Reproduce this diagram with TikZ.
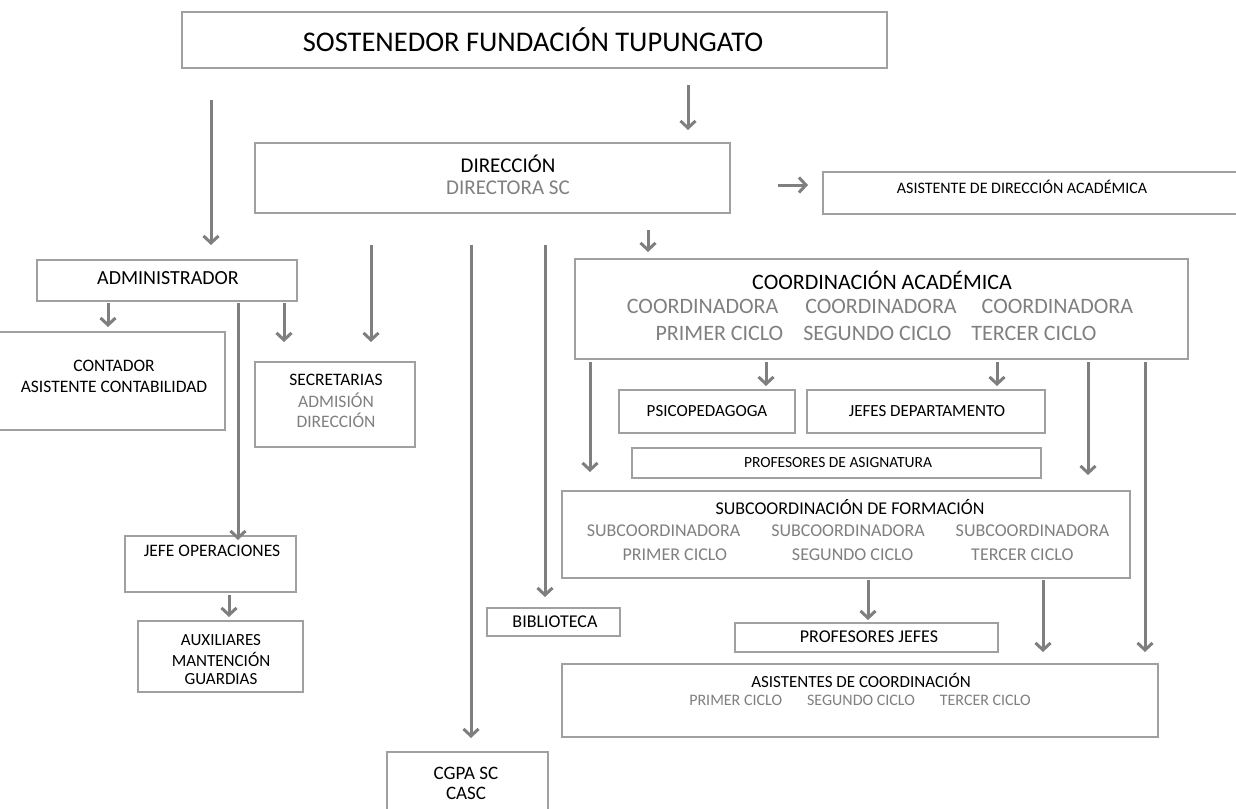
\documentclass[tikz,border=0pt]{standalone}
\usepackage{fontspec}
\setmainfont{Carlito}
\usetikzlibrary{arrows.meta}
\definecolor{boxline}{HTML}{A0A0A0}
\definecolor{arrowgray}{HTML}{7F7F7F}
\definecolor{subgray}{HTML}{808080}
\tikzset{
  box/.style={draw=boxline,line width=1.2pt,fill=white,inner sep=0pt,outer sep=0pt},
  arr/.style={draw=arrowgray,line width=3pt,-{Straight Barb[length=7pt,width=15pt]}},
  lbl/.style={inner sep=0pt,align=center,text=black},
  sub/.style={inner sep=0pt,align=center,text=subgray},
}
\newcommand\mkbox[5]{\node[box,minimum width={(#4-#2)*1pt},minimum height={(#5-#3)*1pt}] (#1) at ({(#2+#4)/2},{(#3+#5)/2}) {};}
\newcommand\fs[1]{\fontsize{#1}{#1}\selectfont}
\begin{document}
\begin{tikzpicture}[x=1pt,y=-1pt]
\useasboundingbox (0,0) rectangle (1236,808);
% boxes
\mkbox{sost}{182}{12}{887}{68}
\mkbox{dir}{255}{143}{730}{213}
\mkbox{asis}{823}{172}{1245}{214}
\mkbox{admin}{37}{260}{297}{301}
\mkbox{cont}{-5}{332}{225}{430}
\mkbox{secr}{255}{362}{415}{447}
\mkbox{coord}{575}{259}{1188}{359}
\mkbox{psico}{619}{390}{795}{433}
\mkbox{jefesdep}{807}{390}{1045}{433}
\mkbox{profasig}{632}{448}{1041}{478}
\mkbox{subc}{562}{491}{1130}{578}
\mkbox{profjef}{735}{623}{998}{652}
\mkbox{asisco}{562}{664}{1158}{737}
\mkbox{biblio}{487}{608}{620}{636}
\mkbox{jefeop}{125}{536}{296}{592}
\mkbox{aux}{138}{621}{303}{692}
\mkbox{cgpa}{387}{752}{548}{820}
% texts
\node[lbl,font=\fs{28.5}] (sost-t) at (533,40) {SOSTENEDOR FUNDACIÓN TUPUNGATO};
\node[lbl,font=\fs{21}] (dir-t) at (508,164) {DIRECCIÓN};
\node[sub,font=\fs{21}] (dir-s) at (508,188) {DIRECTORA SC};
\node[lbl,font=\fs{16}] (asis-t) at (1022,187) {ASISTENTE DE DIRECCIÓN ACADÉMICA};
\node[lbl,font=\fs{20}] (admin-t) at (168,278) {ADMINISTRADOR};
\node[lbl,font=\fs{17.5}] (cont-t1) at (114,366) {CONTADOR};
\node[lbl,font=\fs{17.5}] (cont-t2) at (114,387) {ASISTENTE CONTABILIDAD};
\node[lbl,font=\fs{17.5}] (secr-t) at (336,380) {SECRETARIAS};
\node[sub,font=\fs{17.5}] (secr-s1) at (336,400) {ADMISIÓN};
\node[sub,font=\fs{17.5}] (secr-s2) at (336,420) {DIRECCIÓN};
\node[lbl,font=\fs{22}] (coord-t) at (882,280) {COORDINACIÓN ACADÉMICA};
\node[sub,font=\fs{22}] (coord-s1) at (880,306) {COORDINADORA\hspace{27pt}COORDINADORA\hspace{25pt}COORDINADORA};
\node[sub,font=\fs{22}] (coord-s2) at (876,333) {PRIMER CICLO\hspace{20pt}SEGUNDO CICLO\hspace{20pt}TERCER CICLO};
\node[lbl,font=\fs{17}] (psico-t) at (707,411) {PSICOPEDAGOGA};
\node[lbl,font=\fs{17}] (jefesdep-t) at (927,411) {JEFES DEPARTAMENTO};
\node[lbl,font=\fs{15.5}] (profasig-t) at (838,463) {PROFESORES DE ASIGNATURA};
\node[lbl,font=\fs{18}] (subc-t) at (850,507) {SUBCOORDINACIÓN DE FORMACIÓN};
\node[sub,font=\fs{18}] (subc-s1) at (848,531) {SUBCOORDINADORA\hspace{31pt}SUBCOORDINADORA\hspace{31pt}SUBCOORDINADORA};
\node[sub,font=\fs{18}] (subc-s2) at (848,555) {PRIMER CICLO\hspace{65pt}SEGUNDO CICLO\hspace{58pt}TERCER CICLO};
\node[lbl,font=\fs{18}] (profjef-t) at (869,637) {PROFESORES JEFES};
\node[lbl,font=\fs{17}] (asisco-t) at (861,680) {ASISTENTES DE COORDINACIÓN};
\node[sub,font=\fs{16}] (asisco-s) at (860,700) {PRIMER CICLO\hspace{25pt}SEGUNDO CICLO\hspace{25pt}TERCER CICLO};
\node[lbl,font=\fs{18}] (biblio-t) at (555,622) {BIBLIOTECA};
\node[lbl,font=\fs{17.5}] (jefeop-t) at (212,551) {JEFE OPERACIONES};
\node[lbl,font=\fs{17}] (aux-t1) at (221,640) {AUXILIARES};
\node[lbl,font=\fs{17}] (aux-t2) at (221,659) {MANTENCIÓN};
\node[lbl,font=\fs{17}] (aux-t3) at (221,679) {GUARDIAS};
\node[lbl,font=\fs{19}] (cgpa-t1) at (466,773) {CGPA SC};
\node[lbl,font=\fs{19}] (cgpa-t2) at (466,793) {CASC};
% arrow end points
\coordinate (a1s) at (211,100); \coordinate (a1e) at (211,245);
\coordinate (a2s) at (688,85);  \coordinate (a2e) at (688,130);
\coordinate (a3s) at (778,185); \coordinate (a3e) at (808,185);
\coordinate (a4s) at (108,303); \coordinate (a4e) at (108,327);
\coordinate (a5s) at (238,303); \coordinate (a5e) at (238,540);
\coordinate (a6s) at (284,303); \coordinate (a6e) at (284,342);
\coordinate (a7s) at (371,245); \coordinate (a7e) at (371,342);
\coordinate (a8s) at (471,245); \coordinate (a8e) at (471,738);
\coordinate (a9s) at (545,245); \coordinate (a9e) at (545,597);
\coordinate (a10s) at (648,230); \coordinate (a10e) at (648,252);
\coordinate (a11s) at (590,362); \coordinate (a11e) at (590,472);
\coordinate (a12s) at (766,362); \coordinate (a12e) at (766,386);
\coordinate (a13s) at (997,362); \coordinate (a13e) at (997,386);
\coordinate (a14s) at (1088,362); \coordinate (a14e) at (1088,475);
\coordinate (a15s) at (1145,362); \coordinate (a15e) at (1145,652);
\coordinate (a16s) at (868,580); \coordinate (a16e) at (868,620);
\coordinate (a17s) at (1043,580); \coordinate (a17e) at (1043,652);
\coordinate (a18s) at (229,595); \coordinate (a18e) at (229,617);
\foreach \i in {1,...,18} {\draw[arr] (a\i s) -- (a\i e);}
\end{tikzpicture}
\end{document}
